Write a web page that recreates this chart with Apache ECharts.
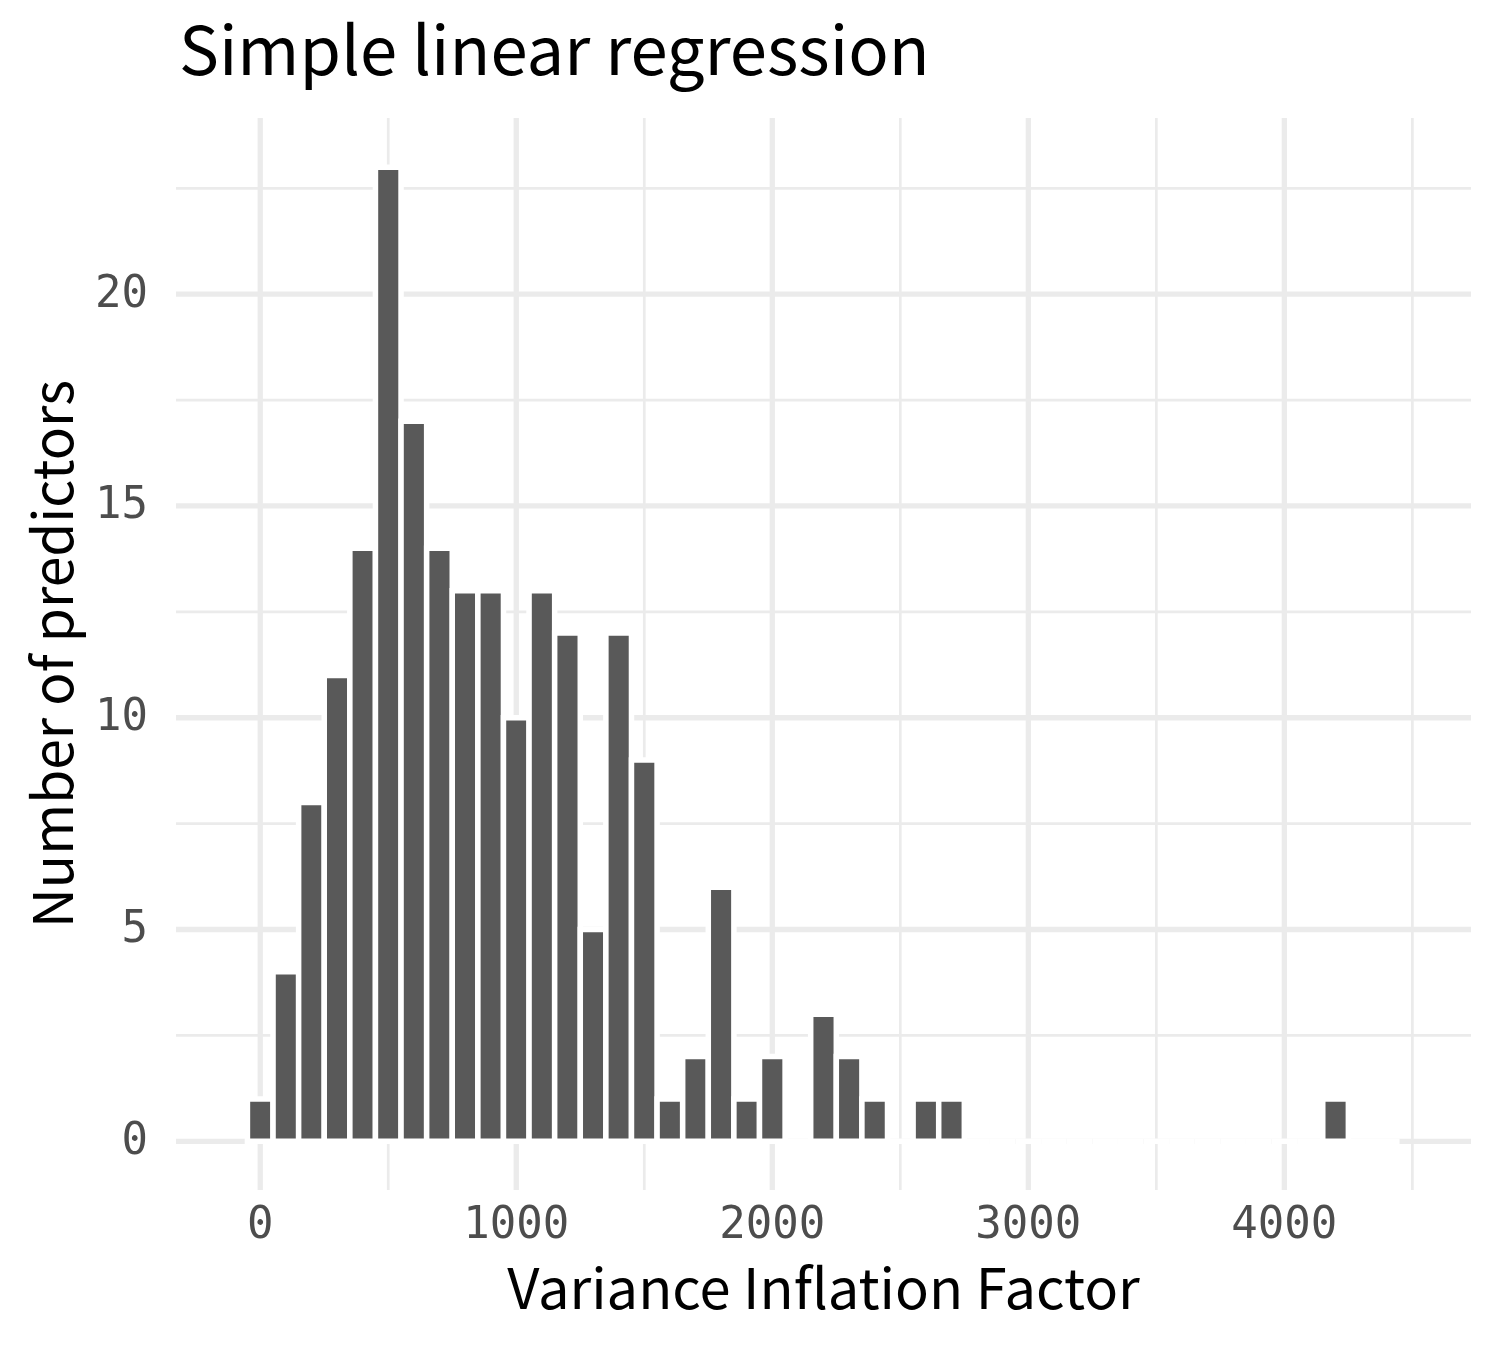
<!DOCTYPE html>
<html><head><meta charset="utf-8">
<script src="https://cdn.jsdelivr.net/npm/echarts@6/dist/echarts.min.js"></script>
<style>html,body{margin:0;padding:0;background:#fff}#c{width:1500px;height:1350px}</style>
</head><body><div id="c"></div>
<script>
// ---- data ----
const binCenters = [0,100,200,300,400,500,600,700,800,900,1000,1100,1200,1300,1400,1500,1600,1700,1800,1900,2000,2100,2200,2300,2400,2500,2600,2700,2800,2900,3000,3100,3200,3300,3400,3500,3600,3700,3800,3900,4000,4100,4200,4300,4400];
const counts     = [1,4,8,11,14,23,17,14,13,13,10,13,12,5,12,9,1,2,6,1,2,0,3,2,1,0,1,1,0,0,0,0,0,0,0,0,0,0,0,0,0,0,1,0,0];
const binWidth = 100;
const xTickValues = [0,1000,2000,3000,4000];
const yTickValues = [0,5,10,15,20];
const xMajorGrid = [0,1000,2000,3000,4000];
const xMinorGrid = [500,1500,2500,3500,4500];
const yMajorGrid = [0,5,10,15,20];
const yMinorGrid = [2.5,7.5,12.5,17.5,22.5];
const titleText = 'Simple linear regression';
const xName = 'Variance Inflation Factor';
const yName = 'Number of predictors';

// ---- build ----
const gridData = [];
xMajorGrid.forEach(v => gridData.push([0, v, 1]));
xMinorGrid.forEach(v => gridData.push([0, v, 0]));
yMajorGrid.forEach(v => gridData.push([1, v, 1]));
yMinorGrid.forEach(v => gridData.push([1, v, 0]));
const barData = binCenters.map((c, i) => [c, counts[i]]);
const labelData = [];
xTickValues.forEach(v => labelData.push([0, v]));
yTickValues.forEach(v => labelData.push([1, v]));

const GRID_COLOR = '#EBEBEB';
const TICK_FONT = '44px "DejaVu Sans Mono"';
function renderGrid(params, api) {
  const cs = params.coordSys;
  const dir = api.value(0), v = api.value(1), major = api.value(2);
  const lw = major ? 5.3 : 2.7;
  let shape;
  if (dir === 0) {
    const x = api.coord([v, 0])[0];
    shape = {x1: x, y1: cs.y, x2: x, y2: cs.y + cs.height};
  } else {
    const y = api.coord([0, v])[1];
    shape = {x1: cs.x, y1: y, x2: cs.x + cs.width, y2: y};
  }
  return {type: 'line', shape: shape, style: {stroke: GRID_COLOR, lineWidth: lw}, silent: true};
}
function renderLabel(params, api) {
  const cs = params.coordSys;
  const dir = api.value(0), v = api.value(1);
  if (dir === 0) {
    const x = api.coord([v, 0])[0];
    return {type: 'text', x: x, y: cs.y + cs.height + 15,
            style: {text: String(v), font: TICK_FONT, fill: '#4D4D4D', align: 'center', verticalAlign: 'top'}};
  }
  const y = api.coord([0, v])[1];
  return {type: 'text', x: cs.x - 28, y: y + 1,
          style: {text: String(v), font: TICK_FONT, fill: '#4D4D4D', align: 'right', verticalAlign: 'middle'}};
}
function renderBar(params, api) {
  const c = api.value(0), n = api.value(1);
  const p0 = api.coord([c - binWidth / 2, 0]);
  const p1 = api.coord([c + binWidth / 2, n]);
  if (n === 0) {
    return {type: 'line', shape: {x1: p0[0], y1: p0[1], x2: p1[0], y2: p0[1]}, style: {stroke: '#FFFFFF', lineWidth: 5.5}};
  }
  return {type: 'rect', shape: {x: p0[0], y: p1[1], width: p1[0] - p0[0], height: p0[1] - p1[1]},
          style: {fill: '#595959', stroke: '#FFFFFF', lineWidth: 5.5}};
}

const chart = echarts.init(document.getElementById('c'), null, {renderer: 'canvas'});
chart.setOption({
  backgroundColor: '#FFFFFF',
  animation: false,
  title: {
    text: titleText, left: 174, top: 11,
    textStyle: {fontFamily: 'Noto Sans CJK JP', fontSize: 67, fontWeight: 'normal', color: '#000000'}
  },
  grid: {left: 176, right: 29, top: 118, bottom: 160, containLabel: false},
  xAxis: {
    type: 'value', min: -329, max: 4729,
    axisLine: {show: false}, axisTick: {show: false}, splitLine: {show: false},
    axisLabel: {show: false},
    name: xName, nameLocation: 'middle', nameGap: 70,
    nameTextStyle: {fontFamily: 'Noto Sans CJK JP', fontSize: 56, color: '#000000'}
  },
  yAxis: {
    type: 'value', min: -1.15, max: 24.16,
    axisLine: {show: false}, axisTick: {show: false}, splitLine: {show: false},
    axisLabel: {show: false},
    name: yName, nameLocation: 'middle', nameGap: 96,
    nameTextStyle: {fontFamily: 'Noto Sans CJK JP', fontSize: 55, color: '#000000'}
  },
  series: [
    {type: 'custom', renderItem: renderGrid, data: gridData, z: 1, silent: true, clip: false},
    {type: 'custom', renderItem: renderBar, data: barData, z: 2, encode: {x: 0, y: 1}},
    {type: 'custom', renderItem: renderLabel, data: labelData, z: 3, silent: true, clip: false}
  ]
});
</script>
</body></html>
